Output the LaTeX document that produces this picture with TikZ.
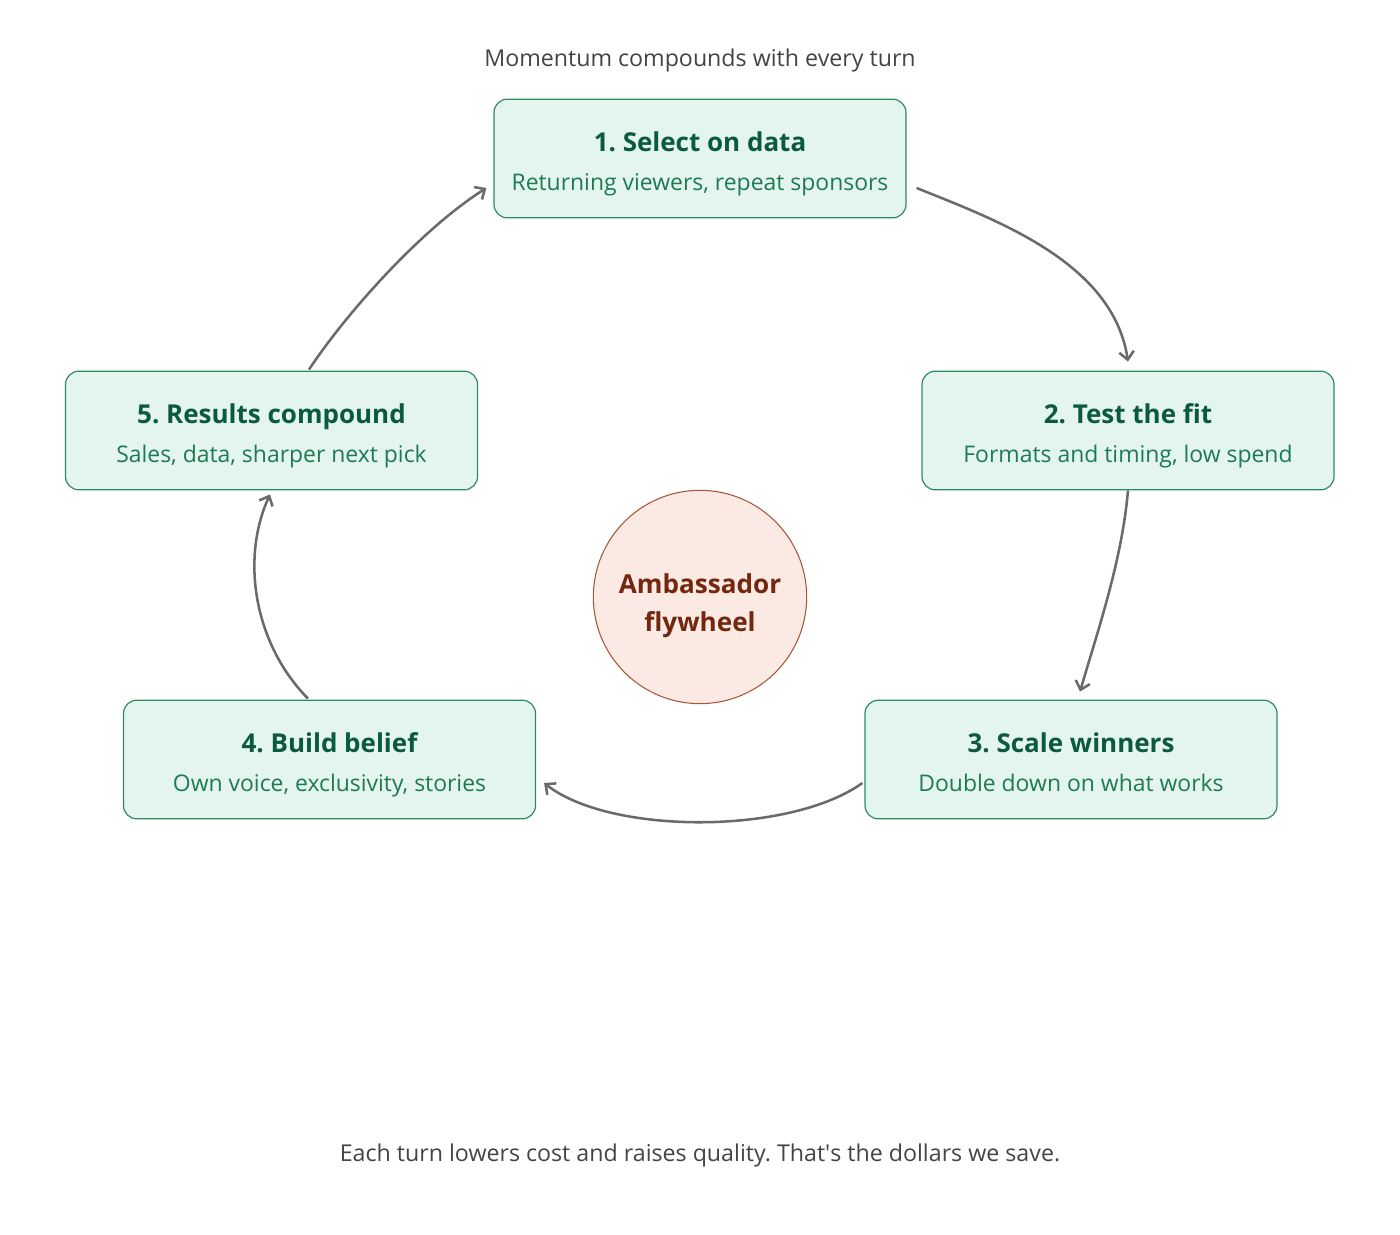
\documentclass[tikz,border=0pt]{standalone}
\usepackage{fontspec}
\setmainfont{Open Sans}
\usetikzlibrary{arrows.meta}
\frenchspacing

\definecolor{boxfill}{HTML}{E3F5EE}
\definecolor{boxline}{HTML}{2F8A62}
\definecolor{headgreen}{HTML}{0B5A3D}
\definecolor{subgreen}{HTML}{1D7A53}
\definecolor{hubfill}{HTML}{FBEAE3}
\definecolor{hubline}{HTML}{A5573A}
\definecolor{hubtext}{HTML}{74270F}
\definecolor{notegray}{HTML}{444444}
\definecolor{flowgray}{HTML}{6A6A6A}

\newcommand{\headfont}{\fontsize{19.5}{23}\selectfont\bfseries\color{headgreen}}
\newcommand{\subfont}{\fontsize{17.2}{18}\selectfont\color{subgreen}}
\newcommand{\stepcontent}[2]{{\headfont\rule{0pt}{23pt}#1}\\[11pt]{\subfont\rule[-4.2pt]{0pt}{4.2pt}#2}}

\tikzset{
  stepbox/.style={draw=boxline,fill=boxfill,line width=0.9pt,rounded corners=10pt,
    minimum width=309pt,minimum height=89pt,align=center,font=\subfont},
  hubnode/.style={circle,draw=hubline,fill=hubfill,line width=0.8pt,minimum size=160pt,
    align=center,font=\fontsize{19.6}{28}\selectfont\bfseries\color{hubtext}},
  flow/.style={draw=flowgray,line width=1.9pt,->},
  note/.style={font=\fontsize{17.4}{20}\selectfont\color{notegray}}
}

\begin{document}
\begin{tikzpicture}[x=0.75pt,y=-0.75pt,>={Straight Barb[length=6pt,width=11pt]}]
  \useasboundingbox (0,0) rectangle (1400,1235);

  \node[note] (title) at (700,60) {Momentum compounds with every turn};

  \node[stepbox] (s1) at (700,158.5) {\stepcontent{1. Select on data}{Returning viewers, repeat sponsors}};
  \node[stepbox] (s2) at (1128,430.5) {\stepcontent{2. Test the fit}{Formats and timing, low spend}};
  \node[stepbox] (s3) at (1071,759.5) {\stepcontent{3. Scale winners}{Double down on what works}};
  \node[stepbox] (s4) at (329.5,759.5) {\stepcontent{4. Build belief}{Own voice, exclusivity, stories}};
  \node[stepbox] (s5) at (271.5,430.5) {\stepcontent{5. Results compound}{Sales, data, sharper next pick}};

  \node[hubnode] (hub) at (700,597) {\rule{0pt}{28pt}Ambassador\\flywheel};

  % the turn of the wheel
  \draw[flow] ([shift={(10,29.5)}]s1.east) .. controls (996,220) and (1113,262) .. ([shift={(0,-9)}]s2.north);
  \draw[flow] (s2.south) .. controls (1122,560) and (1098,630) .. ([shift={(9,-8)}]s3.north);
  \draw[flow] ([shift={(-2,23.5)}]s3.west) .. controls (790,835) and (610,835) .. ([shift={(8,23.5)}]s4.east);
  \draw[flow] ([shift={(-21.5,-1)}]s4.north) .. controls (255,645) and (240,560) .. ([shift={(-1.5,4)}]s5.south);
  \draw[flow] ([shift={(37.5,-1)}]s5.north) .. controls (345,315) and (420,230) .. ([shift={(-7,29.5)}]s1.west);

  \node[note] (footer) at (700,1155) {Each turn lowers cost and raises quality. That\textquotesingle s the dollars we save.};
\end{tikzpicture}
\end{document}
